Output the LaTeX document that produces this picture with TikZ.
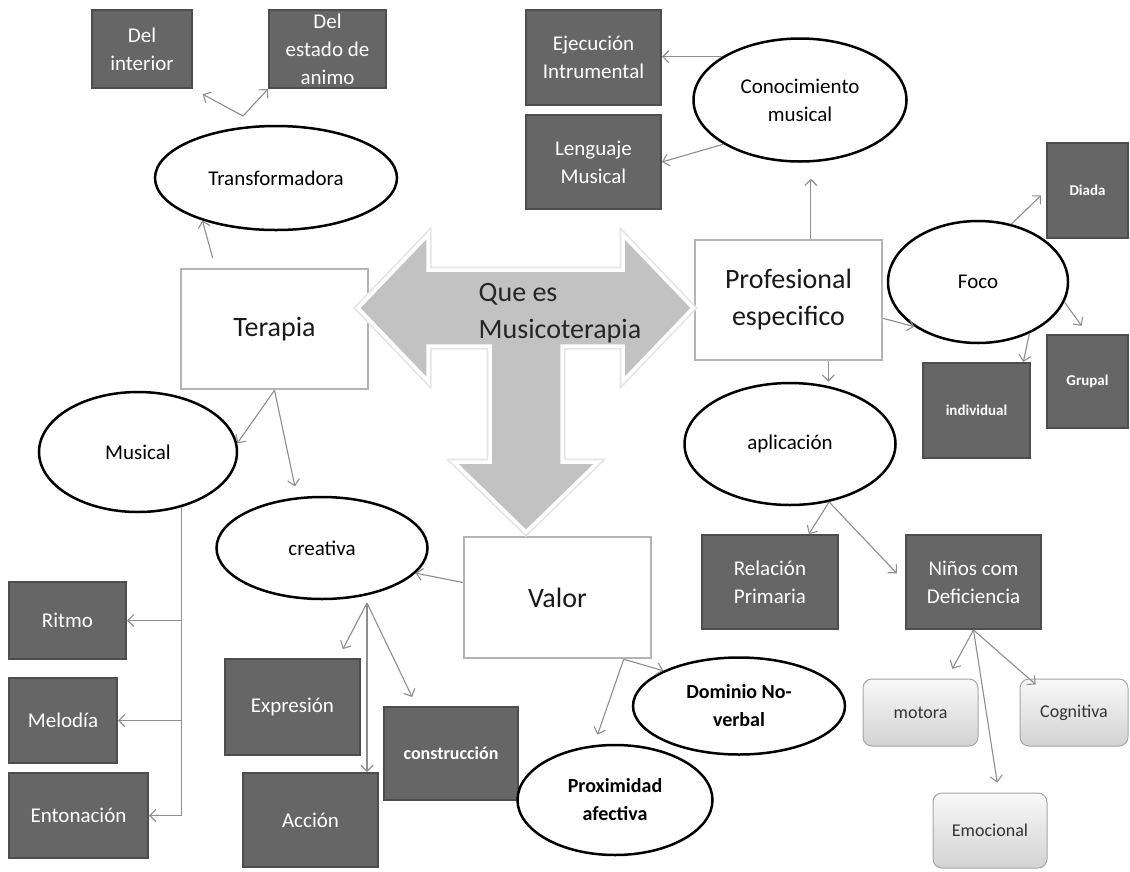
\documentclass[tikz,border=0pt]{standalone}
\usepackage{fontspec}
\setmainfont{Carlito}
\usetikzlibrary{shapes,arrows.meta,positioning,calc}

\definecolor{darkfill}{HTML}{666666}
\definecolor{darkedge}{HTML}{4D4D4D}
\definecolor{paleedge}{HTML}{B4B4B4}
\definecolor{linkgray}{HTML}{8E8E8E}
\definecolor{bigarrow}{HTML}{C2C2C2}

\begin{document}
\begin{tikzpicture}[x=1pt, y=-1pt,
  darkbox/.style={draw=darkedge, fill=darkfill, line width=2pt, text=white, align=center, inner sep=0pt, font=\fontsize{21}{28}\selectfont},
  smallbox/.style={darkbox, font=\fontsize{15}{18}\selectfont\bfseries},
  palebox/.style={draw=paleedge, fill=white, line width=2.5pt, text=black!90, align=center, inner sep=0pt, font=\fontsize{28}{37}\selectfont},
  oval/.style={ellipse, draw=black, fill=white, line width=2.5pt, align=center, inner sep=0pt, font=\fontsize{21}{28}\selectfont},
  softbox/.style={draw=gray!70, rounded corners=9pt, top color=gray!5, bottom color=gray!35, line width=1pt, text=black!80, font=\fontsize{18}{22}\selectfont},
  link/.style={draw=linkgray, line width=1.1pt, -{Straight Barb[length=6pt,width=12pt]}}
]
\fill[white] (0,0) rectangle (1130,871);
\useasboundingbox (0,0) rectangle (1130,871);

% Terapia
\node[palebox, minimum width=187pt, minimum height=120pt] (terapia) at (274.5,329) {Terapia};
\node[oval, minimum width=242pt, minimum height=104pt] (transf) at (276,178) {Transformadora};
\node[darkbox, minimum width=100pt, minimum height=78pt] (delint) at (142,49) {Del\\interior};
\node[darkbox, minimum width=117pt, minimum height=78pt] (delest) at (327.5,49) {Del\\estado de\\animo};
\coordinate (tfork) at (243,116);
\draw[link, shorten >=11pt] (tfork) -- (delint.south east);
\draw[link] (tfork) -- (delest.south west);
\draw[link, shorten <=10pt] (terapia.134) -- (transf.210);

% Musical
\node[oval, minimum width=198pt, minimum height=120pt] (musical) at (138,452) {Musical};
\node[darkbox, minimum width=117pt, minimum height=77pt] (ritmo) at (67.5,620.5) {Ritmo};
\node[darkbox, minimum width=108pt, minimum height=85pt] (melodia) at (63,720.5) {Melodía};
\node[darkbox, minimum width=139pt, minimum height=85pt] (entonacion) at (78.5,815.5) {Entonación};
\draw[link] (terapia.south) -- (musical.5);
\draw[link] (musical.308) |- (entonacion);
\draw[link] (musical.308 |- ritmo) -- (ritmo);
\draw[link] (musical.308 |- melodia) -- (melodia);

% creativa
\node[oval, minimum width=211pt, minimum height=102pt] (creativa) at (322,548) {creativa};
\node[palebox, minimum width=187pt, minimum height=121pt] (valor) at (557.5,597.5) {Valor};
\node[darkbox, minimum width=135pt, minimum height=96pt] (expresion) at (292.5,707) {Expresión};
\node[darkbox, minimum width=135pt, minimum height=94pt] (accion) at (310.5,820) {Acción};
\node[darkbox, minimum width=134pt, minimum height=93pt, font=\fontsize{18}{22}\selectfont\bfseries] (construccion) at (451,753.5) {construcción};
\coordinate (cfork) at (367,603);
\draw[link, shorten >=11pt] (terapia.south) -- (creativa.116);
\draw[link] (valor.171) -- (creativa.345);
\draw[link, shorten >=10pt] (cfork) -- (expresion.47);
\draw[link] (cfork) -- (cfork |- accion.north);
\draw[link, shorten >=10pt] (cfork) -- (construccion.126);

% Valor
\node[oval, font=\fontsize{20}{28}\selectfont\bfseries, minimum width=212pt, minimum height=97pt] (dominio) at (739,706) {Dominio No-\\verbal};
\node[oval, font=\fontsize{20}{28}\selectfont\bfseries, minimum width=195pt, minimum height=110pt] (proximidad) at (615,800) {Proximidad\\afectiva};
\draw[link] (valor.317) -- (dominio.155);
\draw[link, shorten >=11pt] (valor.317) -- (proximidad.111);

% Profesional
\node[palebox, minimum width=187pt, minimum height=120pt] (profesional) at (788.5,300) {Profesional\\especifico};
\node[oval, minimum width=213pt, minimum height=123pt] (conocimiento) at (800,100) {Conocimiento\\musical};
\node[darkbox, minimum width=135pt, minimum height=95pt] (ejecucion) at (593.5,57.5) {Ejecución\\Intrumental};
\node[darkbox, minimum width=135pt, minimum height=94pt] (lenguaje) at (593.5,162) {Lenguaje\\Musical};
\draw[link, shorten >=16pt] (profesional.70) -- (profesional.70 |- conocimiento.south);
\draw[link] (conocimiento.151) -- (conocimiento.151 -| ejecucion.east);
\draw[link] (conocimiento.210) -- (lenguaje.east);

% Foco
\node[oval, minimum width=180pt, minimum height=122pt] (foco) at (978,282) {Foco};
\node[smallbox, minimum width=81pt, minimum height=95pt] (diada) at (1087.5,190.5) {Diada};
\node[smallbox, minimum width=81pt, minimum height=93pt] (grupal) at (1087.5,381.5) {Grupal};
\node[smallbox, minimum width=107pt, minimum height=95pt] (individual) at (976.5,410.5) {individual};
\draw[link] (profesional.349) -- (foco.215);
\draw[link, shorten >=7pt] (foco.60) -- (diada.west);
\draw[link, shorten >=10pt] (foco.347) -- (grupal.north);
\draw[link] (foco.315) -- (individual.46);

% aplicacion
\node[oval, minimum width=211pt, minimum height=122pt] (aplicacion) at (790,444) {aplicación};
\node[darkbox, minimum width=136pt, minimum height=94pt] (relacion) at (770,582) {Relación\\Primaria};
\node[darkbox, minimum width=135pt, minimum height=94pt] (ninos) at (973.5,582) {Niños com\\Deficiencia};
\draw[link] (profesional.303) -- (profesional.303 |- aplicacion.north);
\draw[link] (aplicacion.304) -- (relacion.51);
\draw[link, shorten >=12pt] (aplicacion.304) -- (ninos.west);

% Deficiencia
\node[softbox, minimum width=115pt, minimum height=67pt] (motora) at (920.5,712.5) {motora};
\node[softbox, minimum width=108pt, minimum height=67pt] (cognitiva) at (1074,712.5) {Cognitiva};
\node[softbox, minimum width=114pt, minimum height=75pt] (emocional) at (990,830.5) {Emocional};
\draw[link, shorten >=11pt] (ninos.south) -- (motora.52);
\draw[link, shorten >=10pt] (ninos.south) -- (emocional.77);
\draw[link, shorten >=-9pt] (ninos.south) -- (cognitiva.143);

% Que es Musicoterapia
\filldraw[fill=bigarrow, draw=white, line width=3.5pt, line join=miter, preaction={draw=gray!20, line width=7pt}]
  (358,308) -- (428,235) -- (428,270) -- (623,270) -- (623,235) -- (693,308) -- (623,381) -- (623,346)
  -- (562,346) -- (562,462) -- (598,462) -- (526,532) -- (454,462) -- (490,462) -- (490,346)
  -- (428,346) -- (428,381) -- cycle;
\node[align=left, text=black!85, font=\fontsize{28}{37}\selectfont] (que) at (560,313) {Que es\\Musicoterapia};
\end{tikzpicture}
\end{document}
